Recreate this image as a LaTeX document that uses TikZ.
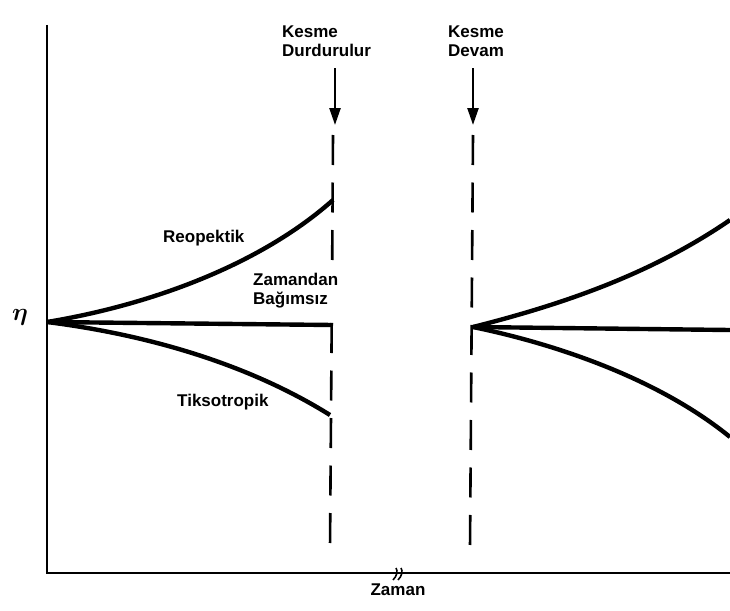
\documentclass[tikz,border=0pt]{standalone}
\usepackage{fontspec}
\setsansfont{Liberation Sans}
\usepackage{bm}
\usepackage{tikz}
\usetikzlibrary{arrows.meta,positioning,calc}

\begin{document}
\begin{tikzpicture}[
  x=1pt,y=-1pt,
  lbl/.style={font=\sffamily\bfseries\fontsize{17}{19}\selectfont,align=left,inner sep=0pt},
  axis/.style={line width=2.4pt,line join=miter},
  curve/.style={line width=4.4pt},
  cut/.style={line width=2.6pt,dash pattern=on 30pt off 17.5pt},
  cutarrow/.style={-{Triangle[length=17pt,width=11pt]},line width=2.4pt},
]
  \useasboundingbox[fill=white] (0,0) rectangle (730,610);
  \coordinate (ytop) at (47,25);
  \coordinate (O) at (47,573);
  \coordinate (xend) at (730,573);
  \coordinate (brk) at (398,574);
  \coordinate (s1) at (47,322);
  \coordinate (s2) at (473,327);
  \coordinate (reo1) at (333,200);
  \coordinate (sab1) at (333,325);
  \coordinate (tik1) at (330,415);
  \coordinate (reo2) at (730,220);
  \coordinate (sab2) at (730,330);
  \coordinate (tik2) at (730,437);
  \draw[axis] (ytop) -- (O) -- (xend);
  \draw[line width=1.6pt] ($(brk)+(-2,-6)$) .. controls ($(brk)+(0,-3)$) and ($(brk)+(-1,2)$) .. ($(brk)+(-5,6)$);
  \draw[line width=1.6pt] ($(brk)+(3,-6)$) .. controls ($(brk)+(5,-3)$) and ($(brk)+(4,2)$) .. ($(brk)+(0,6)$);
  \node[lbl,anchor=base] (zaman) at (398,595) {Zaman};
  \node[anchor=center,inner sep=0pt,font=\fontsize{30}{30}\selectfont] (eta) at (20,317) {$\bm{\eta}$};
  \node[lbl,anchor=north west] (durdur) at (282,26) {Kesme\\Durdurulur};
  \node[lbl,anchor=north west] (devam) at (448,26) {Kesme\\Devam};
  \coordinate (a1) at (335,68);
  \coordinate (a2) at (473,68);
  \draw[cutarrow] (a1) -- (335,125);
  \draw[cutarrow] (a2) -- (473,125);
  \draw[cut] (333,135) -- (332.2,260);
  \draw[cut] (331.7,323) -- (330,548);
  \draw[cut] (473,135) -- (470,548);
  \draw[curve] (s1) .. controls (150,305) and (260,265) .. (reo1);
  \draw[curve] (s1) -- (sab1);
  \draw[curve] (s1) .. controls (150,335) and (250,365) .. (tik1);
  \draw[curve] (s2) .. controls (560,305) and (650,275) .. (reo2);
  \draw[curve] (s2) -- (sab2);
  \draw[curve] (s2) .. controls (560,345) and (660,380) .. (tik2);
  \node[lbl,anchor=base west] (reo) at (163,242) {Reopektik};
  \node[lbl,anchor=north west] (sab) at (253,273) {Zamandan\\Bağımsız};
  \node[lbl,anchor=base west] (tik) at (177,406) {Tiksotropik};
\end{tikzpicture}
\end{document}
